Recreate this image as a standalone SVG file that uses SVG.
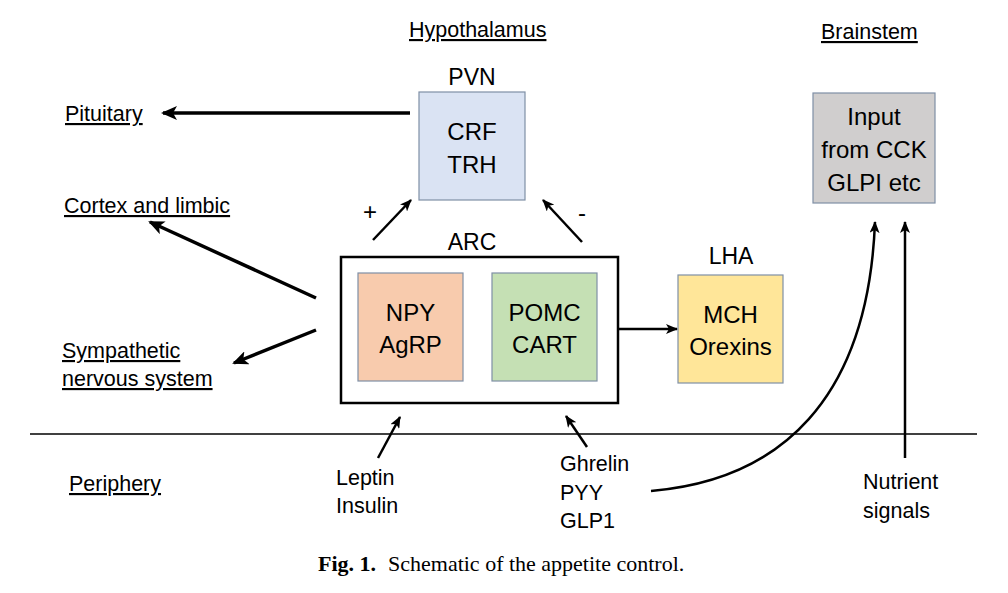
<svg xmlns="http://www.w3.org/2000/svg" width="1008" height="593" viewBox="0 0 1008 593">
<defs>
<marker id="ah" markerUnits="userSpaceOnUse" markerWidth="16" markerHeight="14" viewBox="0 0 16 14" refX="14" refY="7" orient="auto"><path d="M0,0 L16,7 L0,14 L4,7 z" fill="#000"/></marker>
<marker id="ahs" markerUnits="userSpaceOnUse" markerWidth="12" markerHeight="10" viewBox="0 0 12 10" refX="11" refY="5" orient="auto"><path d="M0,0 L12,5 L0,10 L3,5 z" fill="#000"/></marker>
</defs>
<style>
text{font-family:"Liberation Sans",Arial,sans-serif;fill:#000}
.lbl{font-size:21.5px}
.u{text-decoration:underline}
.bt{font-size:24px;text-anchor:middle}
.hd{font-size:23px;text-anchor:middle}
.box{stroke:#7f8fa6;stroke-width:1.2}
.thick{stroke:#000;stroke-width:3.5;fill:none;marker-end:url(#ah)}
.thin{stroke:#000;stroke-width:2.5;fill:none;marker-end:url(#ahs)}
.cap{font-family:"Liberation Serif","Times New Roman",serif;font-size:22px}
</style>
<rect width="1008" height="593" fill="#fff"/>

<g id="labels">
<text class="lbl u" x="409" y="37">Hypothalamus</text>
<text class="lbl u" x="821" y="39">Brainstem</text>
<text class="lbl u" x="65" y="121">Pituitary</text>
<text class="lbl u" x="64" y="213">Cortex and limbic</text>
<text class="lbl u" x="62" y="358">Sympathetic</text>
<text class="lbl u" x="62" y="386">nervous system</text>
<text class="lbl u" x="69" y="491">Periphery</text>
<text style="font-size:24px" x="363" y="220">+</text>
<text style="font-size:24px" x="578" y="221">-</text>
</g>

<g id="pvn">
<text class="hd" x="472" y="85">PVN</text>
<rect class="box" x="419" y="92" width="106" height="108" fill="#dae3f3"/>
<text class="bt" x="472" y="140">CRF</text>
<text class="bt" x="472" y="173">TRH</text>
</g>

<g id="arc">
<text class="hd" x="472" y="250">ARC</text>
<rect x="341" y="257" width="277" height="146" fill="#fff" stroke="#000" stroke-width="2.5"/>
</g>

<g id="npy">
<rect class="box" x="358" y="273" width="105" height="108" fill="#f8cbad"/>
<text class="bt" x="410.5" y="321">NPY</text>
<text class="bt" x="410.5" y="353">AgRP</text>
</g>

<g id="pomc">
<rect class="box" x="492" y="273" width="105" height="108" fill="#c5e0b4"/>
<text class="bt" x="544.5" y="321">POMC</text>
<text class="bt" x="544.5" y="353">CART</text>
</g>

<g id="lha">
<text class="hd" x="731" y="264">LHA</text>
<rect class="box" x="678" y="275" width="105" height="108" fill="#ffe699"/>
<text class="bt" x="730.5" y="323">MCH</text>
<text class="bt" x="730.5" y="355">Orexins</text>
</g>

<g id="brainstem">
<rect class="box" x="813" y="93" width="122" height="110" fill="#d0cece"/>
<text class="bt" x="874" y="125">Input</text>
<text class="bt" x="874" y="158">from CCK</text>
<text class="bt" x="874" y="191">GLPI etc</text>
</g>

<g id="periphery-labels">
<text class="lbl" x="336" y="485">Leptin</text>
<text class="lbl" x="336" y="513">Insulin</text>
<text class="lbl" x="560" y="471">Ghrelin</text>
<text class="lbl" x="560" y="500">PYY</text>
<text class="lbl" x="560" y="528">GLP1</text>
<text class="lbl" x="863" y="489">Nutrient</text>
<text class="lbl" x="863" y="518">signals</text>
</g>

<g id="connectors">
<line x1="30" y1="434" x2="977" y2="434" stroke="#000" stroke-width="1.6"/>
<line class="thick" x1="410" y1="113" x2="163" y2="113"/>
<line class="thick" x1="316" y1="298" x2="150" y2="222"/>
<line class="thick" x1="316" y1="330" x2="234" y2="363"/>
<line class="thin" x1="373" y1="240" x2="411" y2="200"/>
<line class="thin" x1="582" y1="242" x2="543" y2="200"/>
<line class="thin" x1="618" y1="329" x2="677" y2="329"/>
<line class="thin" x1="378" y1="458" x2="400" y2="417"/>
<line class="thin" x1="587" y1="447" x2="566" y2="416"/>
<path class="thin" d="M651,491 C780,480 868,400 875,222"/>
<line class="thin" x1="905" y1="458" x2="905" y2="222"/>
</g>

<g id="caption">
<text class="cap" x="318" y="571" font-weight="bold">Fig. 1.</text>
<text class="cap" x="388" y="571">Schematic of the appetite control.</text>
</g>
</svg>
